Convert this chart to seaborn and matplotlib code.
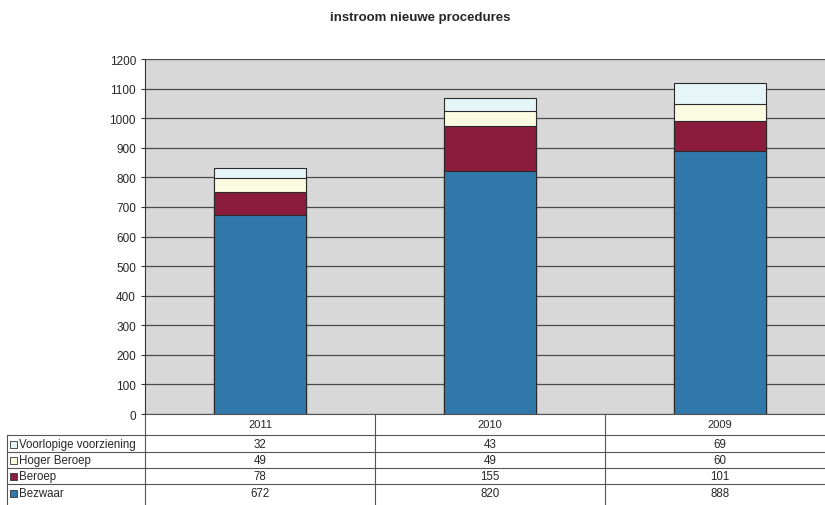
import matplotlib
matplotlib.use("Agg")
import matplotlib.pyplot as plt
import matplotlib.transforms as mtransforms
from matplotlib.patches import Rectangle
import seaborn as sns
import pandas as pd

sns.set_style("white")
plt.rcParams["font.family"] = ["Liberation Sans", "DejaVu Sans"]

# gegevens
jaren = ["2011", "2010", "2009"]
bezwaar = [672, 820, 888]
beroep = [78, 155, 101]
hoger_beroep = [49, 49, 60]
voorlopige = [32, 43, 69]

reeksen = ["Voorlopige voorziening", "Hoger Beroep", "Beroep", "Bezwaar"]
kleuren = {"Bezwaar": "#2f78a9", "Beroep": "#8c1c3e",
           "Hoger Beroep": "#fbfbe2", "Voorlopige voorziening": "#e6f5f8"}
waarden = {"Bezwaar": bezwaar, "Beroep": beroep,
           "Hoger Beroep": hoger_beroep, "Voorlopige voorziening": voorlopige}

df = pd.DataFrame({"jaar": jaren, "Bezwaar": bezwaar, "Beroep": beroep,
                   "Hoger Beroep": hoger_beroep,
                   "Voorlopige voorziening": voorlopige})
# cumulatief stapelen (van onder naar boven)
stapel = ["Bezwaar", "Beroep", "Hoger Beroep", "Voorlopige voorziening"]
df["c_Bezwaar"] = df["Bezwaar"]
df["c_Beroep"] = df["c_Bezwaar"] + df["Beroep"]
df["c_Hoger Beroep"] = df["c_Beroep"] + df["Hoger Beroep"]
df["c_Voorlopige voorziening"] = df["c_Hoger Beroep"] + df["Voorlopige voorziening"]

W, H = 825, 506
fig = plt.figure(figsize=(W / 100, H / 100), dpi=100)
ax = fig.add_axes([145 / W, 1 - 415 / H, 690 / W, 355 / H])
ax.set_facecolor("#d8d8d8")

for naam in reversed(stapel):
    sns.barplot(data=df, x="jaar", y="c_" + naam, order=jaren, color=kleuren[naam],
                width=0.4, edgecolor="#2a2a2a", linewidth=0.8, saturation=1,
                ax=ax, zorder=3)

ax.set_ylim(0, 1200)
ax.set_xlim(-0.5, 2.5)
ax.set_yticks(range(0, 1201, 100))
ax.yaxis.grid(True, color="#4a4a4a", linewidth=0.9, zorder=1)
ax.set_axisbelow(True)
ax.tick_params(axis="y", labelsize=8.5, length=3, color="#333333", left=True)
ax.set_xticks([])
ax.set_xlabel("")
ax.set_ylabel("")
for s in ["top", "right", "bottom"]:
    ax.spines[s].set_visible(False)
ax.spines["left"].set_color("#333333")
ax.spines["left"].set_linewidth(0.8)

fig.text(420 / W, 1 - 18 / H, "instroom nieuwe procedures", ha="center", va="center",
         fontsize=9.5, fontweight="bold")

# datatabel onder de grafiek
tr = mtransforms.blended_transform_factory(ax.transData, fig.transFigure)
fy = lambda py: 1 - py / H
lijn = dict(color="#555555", linewidth=0.8, clip_on=False)

ax.plot([-0.5, 2.5], [fy(415), fy(415)], transform=tr, **lijn)
rij_top = [436, 453, 469, 485]
rij_mid = [445, 461, 477, 494]
for y in rij_top:
    fig.add_artist(plt.Line2D([7 / W, 1], [fy(y), fy(y)], **lijn))
fig.add_artist(plt.Line2D([7 / W, 7 / W], [fy(436), 0], **lijn))
for xv in [-0.5, 0.5, 1.5]:
    ax.plot([xv, xv], [fy(415), 0], transform=tr, **lijn)

for i, jaar in enumerate(jaren):
    ax.text(i, fy(425), jaar, transform=tr, ha="center", va="center", fontsize=8)

for r, naam in enumerate(reeksen):
    ym = fy(rij_mid[r])
    fig.add_artist(Rectangle((10 / W, ym - 3.5 / H), 7 / W, 7 / H,
                             facecolor=kleuren[naam], edgecolor="#333333",
                             linewidth=0.6, transform=fig.transFigure))
    fig.text(19 / W, ym, naam, ha="left", va="center", fontsize=8.3)
    for i in range(len(jaren)):
        ax.text(i, ym, str(waarden[naam][i]), transform=tr, ha="center",
                va="center", fontsize=8.3)

fig.savefig("out.png", dpi=100)
